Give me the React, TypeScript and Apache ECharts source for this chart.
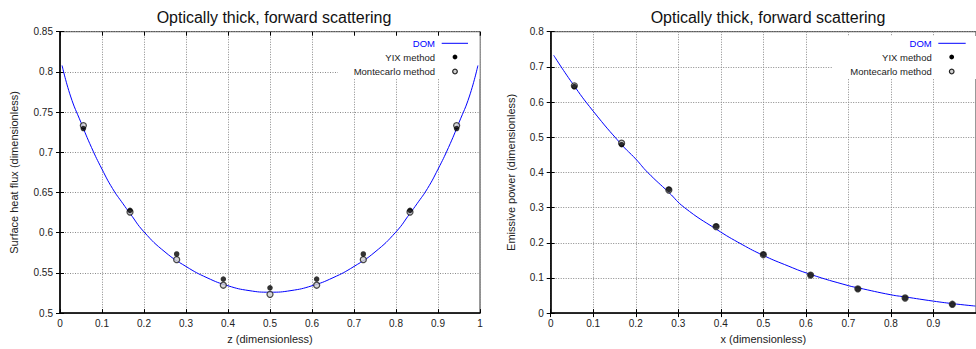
import React, { useEffect, useRef } from "react";
import * as echarts from "echarts";

// Left panel: surface heat flux along z
const domZ = [0.005, 0.025, 0.05, 0.075, 0.1, 0.125, 0.15, 0.1667, 0.2, 0.25, 0.3, 0.35, 0.4, 0.45, 0.5,
  0.55, 0.6, 0.65, 0.7, 0.75, 0.8, 0.8333, 0.85, 0.875, 0.9, 0.925, 0.95, 0.975, 0.995];
const domFlux = [0.808, 0.770, 0.737, 0.706, 0.679, 0.655, 0.636, 0.624, 0.601, 0.576, 0.558, 0.544, 0.534, 0.528, 0.526,
  0.528, 0.534, 0.544, 0.558, 0.576, 0.601, 0.624, 0.636, 0.655, 0.679, 0.706, 0.737, 0.770, 0.808];
const nodeZ = [0.0556, 0.1667, 0.2778, 0.3889, 0.5, 0.6111, 0.7222, 0.8333, 0.9444];
const yixFlux = [0.7295, 0.6278, 0.5735, 0.5424, 0.5314, 0.5424, 0.5735, 0.6278, 0.7295];
const mcFlux = [0.7332, 0.6257, 0.5665, 0.5347, 0.5233, 0.5347, 0.5665, 0.6257, 0.7332];

// Right panel: emissive power along x
const domX = [0.007, 0.05, 0.1, 0.1667, 0.2, 0.228, 0.2778, 0.3145, 0.39, 0.45, 0.5, 0.55, 0.6111, 0.7,
  0.7222, 0.8, 0.8333, 0.9, 0.9444, 0.9985];
const domPower = [0.733, 0.655, 0.574, 0.479, 0.438, 0.400, 0.343, 0.300, 0.238, 0.195, 0.164, 0.138, 0.110, 0.078,
  0.072, 0.052, 0.046, 0.034, 0.027, 0.020];
const nodeX = [0.0556, 0.1667, 0.2778, 0.3889, 0.5, 0.6111, 0.7222, 0.8333, 0.9444];
const yixPower = [0.644, 0.479, 0.352, 0.247, 0.167, 0.108, 0.069, 0.043, 0.025];
const mcPower = [0.646, 0.483, 0.350, 0.246, 0.166, 0.108, 0.069, 0.043, 0.025];

const titleText = "Optically thick, forward scattering";
const legendNames = ["DOM", "YIX method", "Montecarlo method"];

const FONT = "'Liberation Sans', Arial, sans-serif";
const pairs = (xs: number[], ys: number[]) => xs.map((x, i) => [x, ys[i]]);
const fmt = (v: number) => String(parseFloat(v.toFixed(3)));

export default function App() {
  const ref = useRef<HTMLDivElement>(null);

  useEffect(() => {
    if (!ref.current) return;
    const chart = echarts.init(ref.current, null, { renderer: "svg" });

    const grids = [
      { left: 60, top: 31.7, width: 420, height: 285.6 },
      { left: 550.7, top: 31.7, width: 426, height: 285.6 },
    ];

    const splitLine = { show: true, lineStyle: { color: "#8a8a8a", type: [1, 1.5] as any, width: 1 } };
    const tick = { show: true, inside: true, length: 4, lineStyle: { color: "#000" } };
    const label = { color: "#222", fontSize: 10, fontFamily: FONT, formatter: fmt };
    const mainLine = { show: true, onZero: false, lineStyle: { color: "#000", width: 1.6 } };

    const mainX = (grid: number, name: string, showMax: boolean) => ({
      type: "value", gridIndex: grid, min: 0, max: 1, interval: 0.1, position: "bottom",
      name, nameLocation: "middle", nameGap: 17,
      nameTextStyle: { color: "#222", fontSize: 11, fontFamily: FONT },
      axisLine: mainLine, axisTick: tick, splitLine,
      axisLabel: { ...label, margin: 5, showMaxLabel: showMax },
    });
    const mirrorX = (grid: number) => ({
      type: "value", gridIndex: grid, min: 0, max: 1, interval: 0.1, position: "top",
      axisLine: { show: false }, axisTick: tick, splitLine: { show: false }, axisLabel: { show: false },
    });
    const mainY = (grid: number, min: number, max: number, interval: number, name: string, gap: number) => ({
      type: "value", gridIndex: grid, min, max, interval, position: "left",
      name, nameLocation: "middle", nameGap: gap,
      nameTextStyle: { color: "#222", fontSize: 11, fontFamily: FONT },
      axisLine: mainLine, axisTick: tick, splitLine,
      axisLabel: { ...label, margin: 7 },
    });
    const mirrorY = (grid: number, min: number, max: number, interval: number) => ({
      type: "value", gridIndex: grid, min, max, interval, position: "right",
      axisLine: { show: false }, axisTick: tick, splitLine: { show: false }, axisLabel: { show: false },
    });

    const domLine = (axis: number, data: number[][]) => ({
      type: "line", name: legendNames[0], xAxisIndex: axis, yAxisIndex: axis, data,
      smooth: true, symbol: "none", lineStyle: { color: "#0000ff", width: 1 }, z: 3,
    });
    const mcDots = (axis: number, data: number[][]) => ({
      type: "scatter", name: legendNames[2], xAxisIndex: axis, yAxisIndex: axis, data,
      symbol: "circle", symbolSize: 6,
      itemStyle: { color: "#d0d0d0", borderColor: "#222", borderWidth: 1.3 }, z: 4,
    });
    const yixDots = (axis: number, data: number[][]) => ({
      type: "scatter", name: legendNames[1], xAxisIndex: axis, yAxisIndex: axis, data,
      symbol: "circle", symbolSize: 5.5, itemStyle: { color: "#000" }, z: 5,
    });

    // gnuplot-style key: right-aligned labels with the sample to their right
    const key = (bgLeft: number, bgRight: number, textRight: number, lineX0: number, lineX1: number, markX: number) => [
      { type: "rect", z: 1, shape: { x: bgLeft, y: 36, width: bgRight - bgLeft, height: 43 }, style: { fill: "#fff" } },
      { type: "text", z: 6, x: textRight, y: 43.3, style: { text: legendNames[0], fill: "#0000ff", font: `9.5px ${FONT}`, align: "right", verticalAlign: "middle" } },
      { type: "line", z: 6, shape: { x1: lineX0, y1: 43.3, x2: lineX1, y2: 43.3 }, style: { stroke: "#0000ff", lineWidth: 1 } },
      { type: "text", z: 6, x: textRight, y: 57, style: { text: legendNames[1], fill: "#222", font: `9.5px ${FONT}`, align: "right", verticalAlign: "middle" } },
      { type: "circle", z: 6, shape: { cx: markX, cy: 57, r: 2.4 }, style: { fill: "#000" } },
      { type: "text", z: 6, x: textRight, y: 71.5, style: { text: legendNames[2], fill: "#222", font: `9.5px ${FONT}`, align: "right", verticalAlign: "middle" } },
      { type: "circle", z: 6, shape: { cx: markX, cy: 71.5, r: 2.3 }, style: { fill: "#d0d0d0", stroke: "#222", lineWidth: 1.2 } },
    ];

    chart.setOption({
      animation: false,
      backgroundColor: "#fff",
      title: [
        { text: titleText, left: 269, top: 4, textAlign: "center", textStyle: { fontSize: 16, fontWeight: "normal", color: "#111", fontFamily: FONT } },
        { text: titleText, left: 763, top: 4, textAlign: "center", textStyle: { fontSize: 16, fontWeight: "normal", color: "#111", fontFamily: FONT } },
      ],
      grid: grids.map((g) => ({ ...g, show: true, borderColor: "#333", borderWidth: 1, backgroundColor: "transparent" })),
      xAxis: [
        mainX(0, "z (dimensionless)", true),
        mainX(1, "x (dimensionless)", false),
        mirrorX(0),
        mirrorX(1),
      ],
      yAxis: [
        mainY(0, 0.5, 0.85, 0.05, "Surface heat flux (dimensionless)", 40.5),
        mainY(1, 0, 0.8, 0.1, "Emissive power (dimensionless)", 34),
        mirrorY(0, 0.5, 0.85, 0.05),
        mirrorY(1, 0, 0.8, 0.1),
      ],
      series: [
        domLine(0, pairs(domZ, domFlux)),
        mcDots(0, pairs(nodeZ, mcFlux)),
        yixDots(0, pairs(nodeZ, yixFlux)),
        domLine(1, pairs(domX, domPower)),
        mcDots(1, pairs(nodeX, mcPower)),
        yixDots(1, pairs(nodeX, yixPower)),
      ],
      graphic: [
        ...key(338, 479.5, 435, 441.7, 468, 455),
        ...key(833, 976, 931.7, 938.3, 965.7, 951.7),
      ],
    });

    return () => chart.dispose();
  }, []);

  return <div ref={ref} style={{ position: "fixed", left: 0, top: 0, width: 976, height: 349 }} />;
}
